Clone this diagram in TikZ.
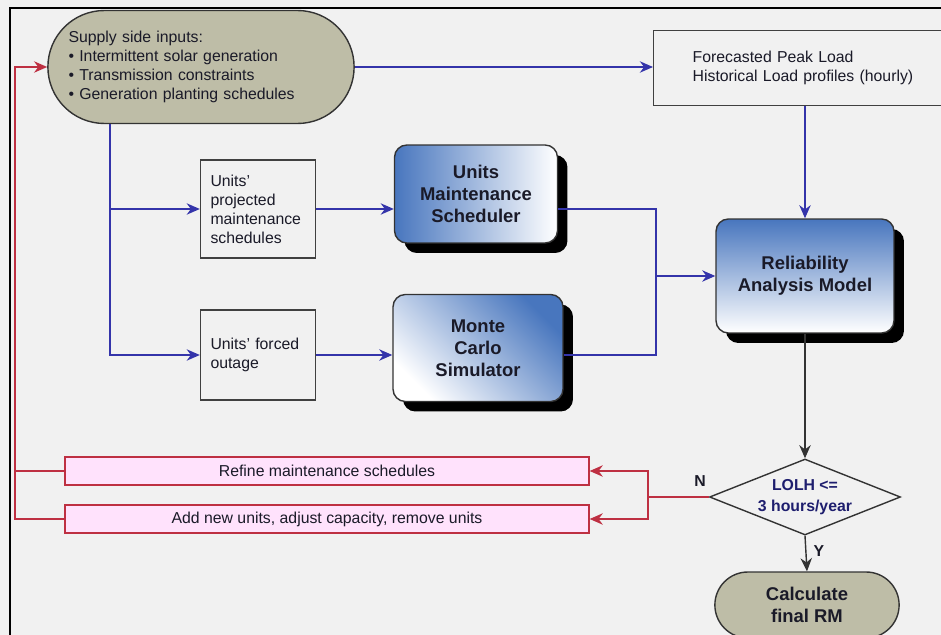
\documentclass[tikz,border=0pt]{standalone}
\usepackage{fontspec}
\setmainfont{Liberation Sans}
\usetikzlibrary{calc,arrows.meta,shapes.misc,shapes.geometric,shadows}
\definecolor{bg}{RGB}{241,241,241}
\definecolor{pill}{RGB}{190,189,167}
\definecolor{boxblue}{RGB}{72,118,190}
\definecolor{lineblue}{RGB}{52,52,170}
\definecolor{linered}{RGB}{190,48,66}
\definecolor{pinkfill}{RGB}{255,226,252}
\definecolor{textnavy}{RGB}{30,30,110}
\definecolor{boxtext}{RGB}{26,26,40}

\begin{document}
\begin{tikzpicture}[x=0.02cm,y=-0.02cm,
            >={Stealth[length=7.5pt,width=6.5pt]},
            every node/.style={font=\fontsize{9}{10.8}\selectfont,text=boxtext},
            pillbox/.style={rounded rectangle,draw=black!80,fill=pill,line width=0.8pt},
            plainbox/.style={draw=black!75,line width=0.8pt,align=left,text width=1.9cm,inner xsep=0.2cm,minimum width=2.3cm},
            bluebox/.style={draw=black!80,rounded corners=7pt,line width=0.8pt,align=center,
                font=\fontsize{10.5}{12.6}\selectfont\bfseries,
                general shadow={fill=black,rounded corners=7pt,shadow xshift=0.2cm,shadow yshift=-0.2cm}},
            pinkbox/.style={draw=linered,fill=pinkfill,line width=0.8pt,minimum width=10.48cm,minimum height=0.56cm},
            blueline/.style={draw=lineblue,line width=0.8pt},
            redline/.style={draw=linered,line width=0.8pt},
            darkline/.style={draw=black!80,line width=0.8pt}]
            \fill[bg] (0,0) rectangle (941,635);
            \useasboundingbox (0,0) rectangle (941,635);
            \draw[line width=1.1pt] (10,645) -- (10,8) -- (950,8);

            \node[pillbox,minimum width=6.36cm,minimum height=2.26cm,text width=5.3cm,align=left] (supply) at (201,67)
                {Supply side inputs:\\ \textbullet\ Intermittent solar generation\\ \textbullet\ Transmission constraints\\ \textbullet\ Generation planting schedules};
            \node[draw=black!75,line width=0.8pt,anchor=north west,align=left,text width=5.36cm,inner xsep=0.78cm,
                inner ysep=0.3cm,minimum height=1.5cm] (forecast) at (653,30)
                {Forecasted Peak Load\\ Historical Load profiles (hourly)};

            \node[plainbox,minimum height=1.96cm] (projsched) at (258,209) {Units'\\ projected\\ maintenance\\ schedules};
            \node[plainbox,minimum height=1.8cm] (outage) at (258,355) {Units' forced\\ outage};

            \node[bluebox,left color=boxblue,right color=white,minimum width=3.26cm,minimum height=1.96cm] (ums) at (476,194) {Units\\ Maintenance\\ Scheduler};
            \node[bluebox,top color=boxblue,bottom color=white,shading angle=-45,minimum width=3.4cm,minimum height=2.14cm] (mcs) at (478,348) {Monte\\ Carlo\\ Simulator};
            \node[bluebox,top color=boxblue,bottom color=white,minimum width=3.56cm,minimum height=2.28cm] (ram) at (805,276) {Reliability\\ Analysis Model};

            \node[diamond,draw=black!80,line width=0.8pt,aspect=2.5,minimum width=3.82cm,minimum height=1.52cm,inner sep=0pt,align=center,
                font=\fontsize{9}{12}\selectfont\bfseries,text=textnavy] (lolh) at (805,497) {LOLH <=\\ 3 hours/year};
            \node[pillbox,minimum width=3.92cm,minimum height=1.32cm,align=center,font=\fontsize{10.5}{12.6}\selectfont\bfseries] (calc) at (807,605)
                {Calculate\\ final RM};

            \node[pinkbox] (refine) at (327,471) {Refine maintenance schedules};
            \node[pinkbox] (addunits) at (327,519) {Add new units, adjust capacity, remove units};

            \node[font=\fontsize{9}{10.8}\selectfont\bfseries] (lblN) at (700,481) {N};
            \node[font=\fontsize{9}{10.8}\selectfont\bfseries] (lblY) at (819,551) {Y};

            \coordinate (trunk) at (110,0);
            \coordinate (join) at (656,0);
            \coordinate (split) at (648,0);
            \coordinate (loop) at (15,0);

            \draw[blueline,->] (supply.east) -- (supply.east -| forecast.west);
            \draw[blueline,->] (ram.north |- forecast.south) -- (ram.north);
            \draw[blueline,->] (supply.south -| trunk) |- (outage.west);
            \draw[blueline,->] (trunk |- projsched.west) -- (projsched.west);
            \draw[blueline,->] (projsched.east) -- (ums.west |- projsched.east);
            \draw[blueline,->] (outage.east) -- (mcs.west |- outage.east);
            \draw[blueline] (ums.east |- projsched.east) -| (join |- outage.east) -- (mcs.east |- outage.east);
            \draw[blueline,->] (join |- ram.west) -- (ram.west);

            \draw[darkline,->] (ram.south) -- (lolh.north);
            \draw[darkline,->] (lolh.south) -- (calc.north);

            \draw[redline,->] (lolh.west) -- (lolh.west -| split) |- (refine.east);
            \draw[redline,->] (lolh.west -| split) |- (addunits.east);
            \draw[redline,->] (addunits.west) -| (loop |- supply.west) -- (supply.west);
            \draw[redline] (refine.west) -- (refine.west -| loop);
        \end{tikzpicture}
\end{document}
